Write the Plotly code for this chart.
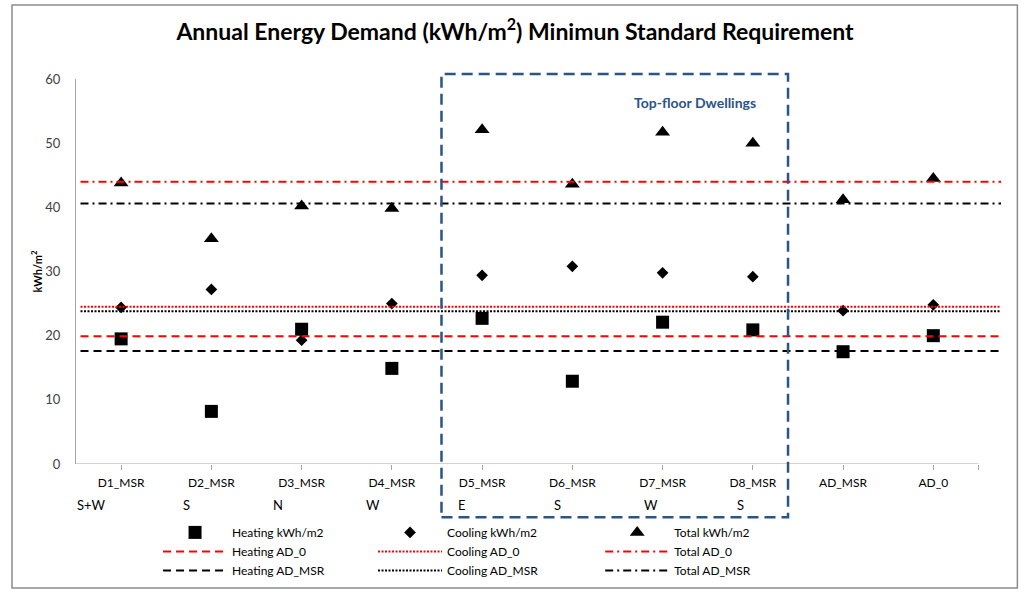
import plotly.graph_objects as go

# ---------------- data ----------------
categories = ["D1_MSR", "D2_MSR", "D3_MSR", "D4_MSR", "D5_MSR",
              "D6_MSR", "D7_MSR", "D8_MSR", "AD_MSR", "AD_0"]
orientations = ["S+W", "S", "N", "W", "E", "S", "W", "S"]
heating = [19.5, 8.2, 21.0, 14.9, 22.7, 12.9, 22.1, 20.9, 17.5, 20.0]
cooling = [24.4, 27.2, 19.3, 25.0, 29.4, 30.8, 29.8, 29.2, 23.9, 24.8]
total = [43.8, 35.1, 40.2, 39.8, 52.1, 43.6, 51.7, 50.0, 41.2, 44.5]

heating_ad0 = 19.9
cooling_ad0 = 24.5
total_ad0 = 44.0
heating_admsr = 17.6
cooling_admsr = 23.8
total_admsr = 40.6

y_ticks = [0, 10, 20, 30, 40, 50, 60]
box_label = "Top-floor Dwellings"
title_text = "Annual Energy Demand (kWh/m<sup>2</sup>) Minimun Standard Requirement"

# ---------------- styles ----------------
FONT = "Lato"
AXIS_GRAY = "#A6A6A6"
BLUE = "#2B5487"
orient_shift_px = [-30, -25, -24, -19, -20, -15, -12, -12]

x_pos = list(range(1, len(categories) + 1))
x_axis_end = x_pos[-1] + 0.5
x_line = [x_pos[0] - 0.45, x_pos[-1] + 0.75]

fig = go.Figure()

# marker series
marker_series = [
    ("Heating kWh/m2", heating, "square", 13, "legend"),
    ("Cooling kWh/m2", cooling, "diamond", 9, "legend2"),
    ("Total kWh/m2", total, "triangle-up", 13, "legend3"),
]
for name, vals, sym, size, lg in marker_series:
    fig.add_trace(go.Scatter(
        x=x_pos, y=vals, mode="markers", name=name, legend=lg,
        marker=dict(symbol=sym, size=size, color="black", line=dict(width=0)),
        cliponaxis=False,
    ))

# reference lines
line_series = [
    ("Heating AD_0", heating_ad0, "red", "8px,5px", 2, "legend"),
    ("Cooling AD_0", cooling_ad0, "red", "2px,1.5px", 2, "legend2"),
    ("Total AD_0", total_ad0, "red", "8px,4px,2px,4px", 2, "legend3"),
    ("Heating AD_MSR", heating_admsr, "black", "8px,5px", 2, "legend"),
    ("Cooling AD_MSR", cooling_admsr, "black", "2px,1.5px", 2, "legend2"),
    ("Total AD_MSR", total_admsr, "black", "8px,4px,2px,4px", 2, "legend3"),
]
for name, val, col, dash, w, lg in line_series:
    fig.add_trace(go.Scatter(
        x=x_line, y=[val, val], mode="lines", name=name, legend=lg,
        line=dict(color=col, dash=dash, width=w),
        hoverinfo="skip",
    ))

# x axis baseline
fig.add_shape(type="line", xref="x", yref="y", x0=0.5, x1=x_axis_end, y0=0, y1=0,
              line=dict(color=AXIS_GRAY, width=1), layer="above")

# dashed box around top floor dwellings
fig.add_shape(type="rect", xref="x", yref="paper", x0=4.55, x1=8.39, y0=-0.138, y1=1.013,
              line=dict(color=BLUE, width=2.5, dash="11px,6px"), fillcolor="rgba(0,0,0,0)")
fig.add_annotation(x=7.36, y=56.3, xref="x", yref="y", text="<b>" + box_label + "</b>",
                   showarrow=False, font=dict(family=FONT, size=14, color=BLUE))

# chart border
fig.add_shape(type="rect", xref="paper", yref="paper", x0=-0.0692, x1=1.0177,
              y0=-0.322, y1=1.192, line=dict(color="#8C8C8C", width=1.5))

# orientation labels
for i, lab in enumerate(orientations):
    fig.add_annotation(x=x_pos[i], y=-0.106, xref="x", yref="paper", text=lab,
                       showarrow=False, xshift=orient_shift_px[i], yanchor="middle",
                       font=dict(family=FONT, size=13, color="black"))

legend_common = dict(orientation="v", xanchor="left", yanchor="top", y=-0.14,
                     itemwidth=64, font=dict(family=FONT, size=12, color="black"),
                     bgcolor="rgba(0,0,0,0)", tracegroupgap=0, itemsizing="trace")

fig.update_layout(
    width=1024, height=596,
    margin=dict(l=76, r=23, t=79, b=132, autoexpand=False),
    paper_bgcolor="white", plot_bgcolor="white",
    font=dict(family=FONT, size=12, color="black"),
    title=dict(text="<b>" + title_text + "</b>", x=515 / 1024, xref="container",
               xanchor="center", y=1 - 32 / 596, yanchor="middle",
               font=dict(family=FONT, size=23, color="black")),
    xaxis=dict(range=[0.5, x_line[1]], tickvals=x_pos + [x_axis_end],
               ticktext=categories + [""], ticks="outside", ticklen=5,
               tickcolor=AXIS_GRAY, showline=False, showgrid=False, zeroline=False,
               ticklabelstandoff=3, automargin=False,
               tickfont=dict(family=FONT, size=12, color="black")),
    yaxis=dict(range=[0, 60], tickvals=y_ticks, showline=True, linecolor=AXIS_GRAY,
               linewidth=1, showgrid=False, zeroline=False, ticks="",
               ticklabelstandoff=12, automargin=False,
               tickfont=dict(family=FONT, size=13, color="#404040"),
               title=dict(text="<b>kWh/m<sup>2</sup></b>", standoff=0,
                          font=dict(family=FONT, size=11, color="black"))),
    legend=dict(x=0.0887, **legend_common),
    legend2=dict(x=0.3211, **legend_common),
    legend3=dict(x=0.5667, **legend_common),
)

fig.write_html("out.html", config={"displayModeBar": False},
               post_script="document.body.style.margin='0';document.body.style.overflow='hidden';")
